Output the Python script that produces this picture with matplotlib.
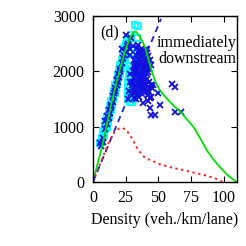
import matplotlib
matplotlib.use("Agg")
import matplotlib.pyplot as plt

# --- data ---
# model curve (green)
green_k = [0, 3, 6, 9, 12, 15, 18, 21, 24, 27, 29, 31, 32.5, 34, 36, 38, 40, 42, 44, 46, 48,
           51, 56, 62, 66, 72, 77, 82, 87, 92, 97, 103, 110]
green_q = [0, 280, 560, 860, 1200, 1520, 1800, 2070, 2330, 2530, 2640, 2705, 2720, 2690, 2620,
           2530, 2420, 2250, 2080, 1930, 1800, 1660, 1520, 1370, 1290, 1130, 990, 790, 574, 410,
           272, 121, 0]

# free-flow line (blue dashed)
line_k = [0, 52]
line_q = [0, 2950]

# lower curve (red dotted)
red_k = [0, 2.5, 5, 9, 12.8, 16.6, 20, 22, 25, 28, 30.6, 34, 38.3, 41, 44.7, 50, 53.6, 58,
         63.8, 71, 79, 86, 93, 98, 99.5]
red_q = [0, 150, 300, 543, 755, 905, 970, 980, 950, 860, 755, 600, 470, 420, 393, 330, 302,
         275, 242, 205, 160, 120, 70, 15, 0]

# measurements (cyan squares)
cyan_k = [5.5, 6.5, 7, 8.5, 8, 9.5, 9, 10.5, 10, 11.5, 11, 12.5, 12, 13.5, 13, 14.5, 14, 15.5,
          15, 16.5, 16, 17.5, 17, 18.5, 18, 19.5, 19, 20.5, 20, 21.5, 21, 22.5, 22, 23.5, 23,
          24.5, 24, 25.5, 25, 26.5, 26, 27.5, 29, 31.9, 34.4, 33.9, 35.7, 29.4,
          26.5, 27, 26.5, 27, 27.5, 28, 28, 28.5, 29, 28.5, 29, 29.5, 30, 30.5, 30, 31, 30.5,
          31, 29, 28, 30, 32, 31.5, 27.5, 29.5]
cyan_q = [700, 720, 800, 850, 920, 950, 1020, 1000, 1100, 1080, 1180, 1200, 1280, 1300, 1380,
          1400, 1470, 1500, 1560, 1600, 1650, 1700, 1750, 1780, 1850, 1880, 1930, 1950, 2020,
          2050, 2120, 2150, 2200, 2250, 2300, 2350, 2420, 2450, 2500, 2520, 2550, 2580, 2650,
          2830, 2815, 2595, 2354, 2325,
          1500, 1600, 1700, 1800, 1900, 2000, 2100, 1550, 1650, 1750, 1850, 1950, 2050, 1500,
          1600, 1700, 1800, 1900, 2200, 1450, 1450, 2000, 2100, 1650, 1550]

# measurements (blue crosses)
blue_k = [5, 6, 7.5, 7.7, 9, 9.5, 10.5, 11, 12, 12.5, 13, 13.5, 14, 15, 15, 16, 16.5, 17, 18,
          18, 19, 19.5, 20, 20.5, 21, 22, 22, 23, 24, 25, 25.5, 26, 27, 28, 28, 29, 30.5,
          27, 27.5, 28, 28.5, 29, 29.5,
          34, 35.5, 38.3, 40.5, 41, 34.4, 35.7,
          33, 35.2, 36.5, 38.4, 39.5, 42.3,
          31, 32.5, 34.3, 35, 36.2, 37.5, 39.1, 40.5, 42, 43.2,
          31.2, 32, 33.1, 34, 35.4, 36, 37.3, 38, 39.2, 40.3, 41, 43, 44.2,
          30.5, 32.2, 33, 34.1, 35, 36.4, 37, 38.2, 39, 40.4, 42,
          31, 32.3, 33, 34.2, 35, 36.1, 37.2, 38, 39.3, 40, 41.2,
          30, 31.5, 33.2, 34.5, 36, 37.1, 38.5, 40.2, 43, 44,
          30.5, 32, 33.5, 35.1, 36.5, 37.4, 38, 40, 40.9, 42, 45, 46,
          31, 32.5, 34, 35.5, 37.2, 39, 41, 43.1,
          31.3, 33, 35, 42.1, 43.4, 44.3,
          38.3, 42.1, 43.4, 44.7, 47.7, 49.7, 51, 60.3, 62.5, 62.5, 66.9]
blue_q = [700, 650, 800, 725, 950, 1100, 1050, 1200, 1150, 1300, 1250, 1400, 1350, 1450, 1550,
          1600, 1700, 1650, 1750, 1850, 1800, 1950, 1900, 2050, 2000, 2150, 2400, 2250, 2300,
          2350, 2656, 2450, 2500, 2400, 2300, 2600, 2450,
          1500, 1650, 1800, 1950, 1600, 1750,
          2420, 2360, 2390, 2400, 2330, 2475, 2385,
          2290, 2320, 2270, 2300, 2240, 2280,
          2200, 2170, 2230, 2140, 2210, 2160, 2190, 2170, 2140, 2200,
          2100, 2040, 2120, 2080, 2090, 2050, 2130, 2060, 2100, 2040, 2080, 2050, 2110,
          2000, 1980, 2010, 1940, 2000, 1970, 2020, 1960, 2010, 1970, 1990,
          1900, 1880, 1920, 1860, 1900, 1860, 1910, 1880, 1840, 1900, 1870,
          1800, 1770, 1820, 1790, 1800, 1750, 1810, 1780, 1800, 1750,
          1700, 1680, 1720, 1690, 1710, 1690, 1660, 1700, 1750, 1720, 1700, 1750,
          1600, 1620, 1580, 1610, 1590, 1620, 1650, 1630,
          1520, 1500, 1540, 1570, 1510, 1530,
          1430, 1460, 1330, 1208, 1208, 1600, 1390, 1770, 1720, 1267, 1267]

x_ticks = [0, 25, 50, 75, 100]
y_ticks = [0, 1000, 2000, 3000]

plt.rcParams['font.family'] = ['Liberation Serif', 'DejaVu Serif']
plt.rcParams['font.size'] = 11.5

fig = plt.figure(figsize=(2.46, 2.46), dpi=100)
ax = fig.add_axes([0.378, 0.26, 0.585, 0.675])

ax.plot(cyan_k, cyan_q, linestyle='none', marker='s', markersize=3.8,
        markerfacecolor='none', markeredgecolor='#00ffff', markeredgewidth=1.3)
ax.plot(blue_k, blue_q, linestyle='none', marker='x', markersize=3.8,
        color='#1010e0', markeredgewidth=1.3)

ax.plot(green_k, green_q, color='#00e000', linewidth=1.3)
ax.plot(line_k, line_q, color='#2020e0', linewidth=1.3, linestyle=(0, (3.5, 2.5)))
ax.plot(red_k, red_q, color='#ff2020', linewidth=1.4, linestyle=(0, (1.2, 1.8)))

ax.text(12.8, 2710, "(d)", ha='center', va='center')
ax.text(109.5, 2510, "immediately", ha='right', va='center')
ax.text(109.5, 2215, "downstream", ha='right', va='center')

ax.set_xlim(0, 110)
ax.set_ylim(0, 3000)
ax.set_xticks(x_ticks)
ax.set_yticks(y_ticks)
ax.tick_params(direction='in', top=True, right=True, length=4, width=0.8, pad=6)
for sp in ax.spines.values():
    sp.set_linewidth(1.0)
ax.set_xlabel("Density (veh./km/lane)", labelpad=4)

fig.savefig("out.png", dpi=100)
